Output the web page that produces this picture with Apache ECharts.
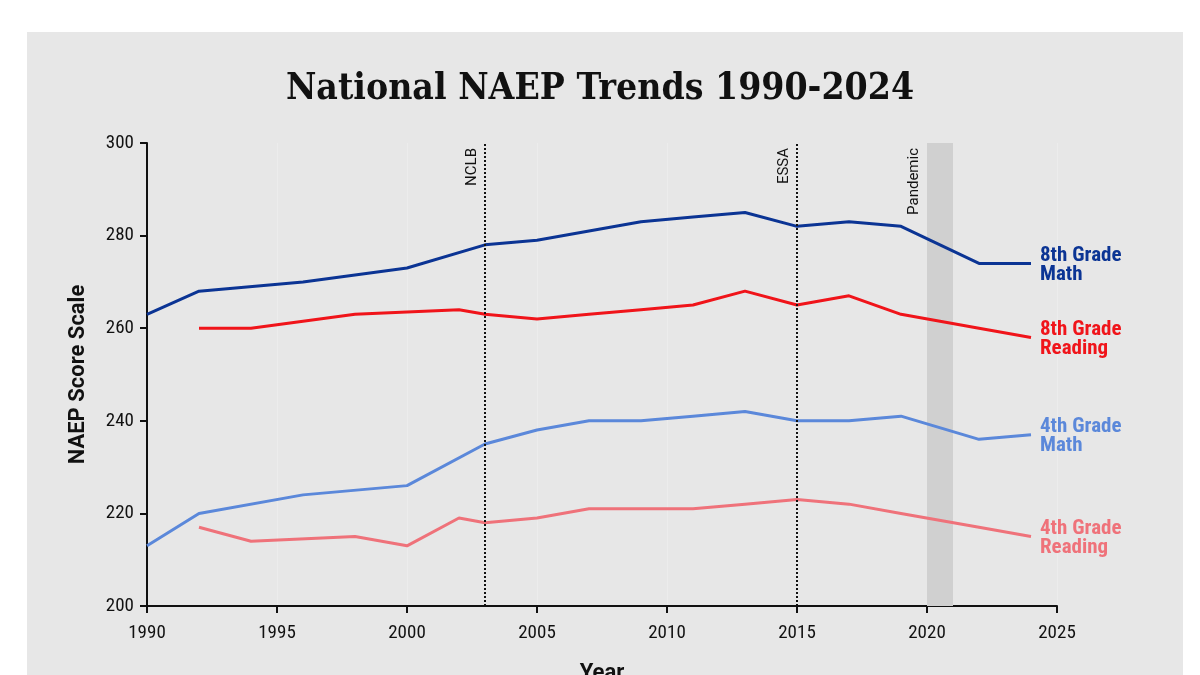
<!DOCTYPE html>
<html>
<head>
<meta charset="utf-8">
<script src="https://cdn.jsdelivr.net/npm/echarts@6/dist/echarts.min.js"></script>
<style>
  html, body { margin: 0; padding: 0; background: #fff; }
  #chart { width: 1200px; height: 675px; }
</style>
</head>
<body>
<div id="chart"></div>
<script>
const math8Years = [1990, 1992, 1996, 2000, 2003, 2005, 2007, 2009, 2011, 2013, 2015, 2017, 2019, 2022, 2024];
const math8Scores = [263, 268, 270, 273, 278, 279, 281, 283, 284, 285, 282, 283, 282, 274, 274];

const reading8Years = [1992, 1994, 1998, 2002, 2003, 2005, 2007, 2009, 2011, 2013, 2015, 2017, 2019, 2022, 2024];
const reading8Scores = [260, 260, 263, 264, 263, 262, 263, 264, 265, 268, 265, 267, 263, 260, 258];

const math4Years = [1990, 1992, 1996, 2000, 2003, 2005, 2007, 2009, 2011, 2013, 2015, 2017, 2019, 2022, 2024];
const math4Scores = [213, 220, 224, 226, 235, 238, 240, 240, 241, 242, 240, 240, 241, 236, 237];

const reading4Years = [1992, 1994, 1998, 2000, 2002, 2003, 2005, 2007, 2009, 2011, 2013, 2015, 2017, 2019, 2022, 2024];
const reading4Scores = [217, 214, 215, 213, 219, 218, 219, 221, 221, 221, 222, 223, 222, 220, 217, 215];

const policyYears = [2003, 2015];
const policyNames = ['NCLB', 'ESSA'];
const pandemicRange = [2020, 2021];

const condensed = "'Roboto Condensed', 'Liberation Sans Narrow', 'DejaVu Sans Condensed', sans-serif";

function pairs(xs, ys) {
    return xs.map((x, i) => [x, ys[i]]);
}

function lineSeries(name, years, scores, color) {
    return {
        name: name,
        type: 'line',
        data: pairs(years, scores),
        showSymbol: false,
        symbol: 'none',
        lineStyle: { color: color, width: 3 },
        itemStyle: { color: color },
        endLabel: {
            show: true,
            formatter: name.replace(' Grade ', ' Grade\n'),
            color: color,
            fontFamily: condensed,
            fontWeight: 'bold',
            fontSize: 21,
            lineHeight: 19,
            distance: 9,
            offset: [0, 2]
        },
        z: 3
    };
}

let chart = echarts.init(document.getElementById('chart'), null, { renderer: 'canvas' });

let series = [
    lineSeries('8th Grade Math', math8Years, math8Scores, '#0b3494'),
    lineSeries('8th Grade Reading', reading8Years, reading8Scores, '#f0141a'),
    lineSeries('4th Grade Math', math4Years, math4Scores, '#5b88da'),
    lineSeries('4th Grade Reading', reading4Years, reading4Scores, '#ef727a')
];

// annotation lines and pandemic band
series.push({
    name: 'annotations',
    type: 'line',
    data: [],
    silent: true,
    markArea: {
        silent: true,
        itemStyle: { color: '#d0d0d0' },
        data: [[{ xAxis: pandemicRange[0] }, { xAxis: pandemicRange[1] }]]
    },
    markLine: {
        silent: true,
        symbol: 'none',
        animation: false,
        lineStyle: { color: '#111', type: 'dotted', width: 2 },
        label: {
            position: 'insideEndTop',
            fontFamily: "Roboto, sans-serif",
            fontSize: 15,
            color: '#111',
            distance: 5
        },
        data: policyYears.map((y, i) => ({ xAxis: y, label: { formatter: policyNames[i] } }))
            .concat([{
                xAxis: pandemicRange[0],
                lineStyle: { color: 'rgba(0,0,0,0)', width: 1 },
                label: { formatter: 'Pandemic' }
            }])
    },
    z: 1
});

chart.setOption({
    animation: false,
    backgroundColor: '#fff',
    graphic: [{
        type: 'rect',
        shape: { x: 27, y: 32, width: 1156, height: 660 },
        style: { fill: '#e7e7e7' },
        z: -10,
        silent: true
    }],
    title: {
        text: 'National NAEP Trends 1990-2024',
        left: 'center',
        top: 66,
        textStyle: {
            fontFamily: "'DejaVu Serif Condensed', 'DejaVu Serif', serif",
            fontWeight: 'bold',
            fontSize: 37,
            color: '#111'
        }
    },
    grid: {
        left: 147,
        right: 143,
        top: 143,
        bottom: 69,
        containLabel: false,
        outerBoundsMode: 'none'
    },
    xAxis: {
        type: 'value',
        min: 1990,
        max: 2025,
        interval: 5,
        name: 'Year',
        nameLocation: 'middle',
        nameGap: 56,
        nameTextStyle: {
            fontFamily: "Roboto, sans-serif",
            fontWeight: 'bold',
            fontSize: 22,
            color: '#111'
        },
        axisLine: { show: true, lineStyle: { color: '#111', width: 2 } },
        axisTick: { show: true, length: 7, lineStyle: { color: '#111', width: 2 } },
        axisLabel: {
            fontFamily: condensed,
            fontSize: 19,
            color: '#111',
            margin: 18,
            formatter: v => String(v)
        },
        splitLine: { show: true, lineStyle: { color: '#ececec', width: 1 } }
    },
    yAxis: {
        type: 'value',
        min: 200,
        max: 300,
        interval: 20,
        name: 'NAEP Score Scale',
        nameLocation: 'middle',
        nameGap: 58,
        nameTextStyle: {
            fontFamily: "Roboto, sans-serif",
            fontWeight: 'bold',
            fontSize: 22,
            color: '#111'
        },
        axisLine: { show: true, lineStyle: { color: '#111', width: 2 } },
        axisTick: { show: true, length: 7, lineStyle: { color: '#111', width: 2 } },
        axisLabel: {
            fontFamily: condensed,
            fontSize: 19,
            color: '#111',
            margin: 13
        },
        splitLine: { show: false }
    },
    series: series
});
</script>
</body>
</html>
